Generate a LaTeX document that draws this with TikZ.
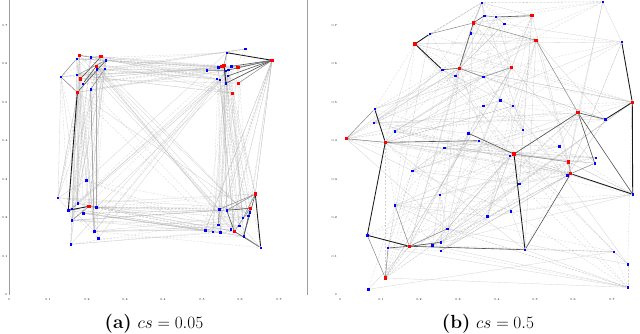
\documentclass[tikz,border=0pt]{standalone}
\usetikzlibrary{backgrounds}
\definecolor{ptblue}{RGB}{0,0,255}
\definecolor{ptred}{RGB}{255,0,0}
\begin{document}
\begin{tikzpicture}[x=1pt,y=-1pt,
  bpt/.style={rectangle,fill=ptblue,inner sep=0pt,minimum size=2.4pt},
  rpt/.style={rectangle,fill=ptred,inner sep=0pt,minimum size=3.1pt},
  g0/.style={draw=black!32,line width=0.3pt,opacity=0.55},
  g1/.style={draw=black!32,line width=0.3pt,opacity=0.55,dash pattern=on 2pt off 1.5pt},
  md/.style={draw=black!48,line width=0.5pt},
  dk/.style={draw=black!68,line width=0.6pt},
  bk/.style={draw=black!90,line width=0.85pt},
  tick/.style={font=\fontsize{3}{3}\selectfont,inner sep=0pt},
  axisline/.style={draw=black!38,line width=1pt},
  capt/.style={font=\fontsize{19}{21}\selectfont,inner sep=0pt}]
\useasboundingbox (0,0) rectangle (640,333);

% ---------------- panel (a) points ----------------
\foreach \n/\col/\x/\y in {
 1/r/79.3/55.3, 2/b/76.7/58.7, 3/b/90.7/57.3, 4/r/101/56.7, 5/b/106/60.3,
 6/r/96.3/66.3, 7/b/96.7/69.3, 8/b/104.7/69, 9/b/61/77, 10/b/77/75,
 11/r/80.3/79, 12/b/82.7/83.7, 13/b/90.7/89.3, 14/r/77.3/92.3,
 15/b/226.7/52.7, 16/b/245.3/49, 17/r/272/60.3, 18/r/224/65.3, 19/b/218.3/67.3,
 20/r/222/66.7, 21/b/231.3/66.3, 22/r/238/67.3, 23/b/228.3/70, 24/b/225.7/70.7,
 25/b/206.7/70.3, 26/b/227.7/76, 27/b/216.7/78.7, 28/b/220/79.7, 29/b/226/83.3,
 30/r/238.3/83.3, 31/r/232.3/93.3,
 32/b/86.3/180.3, 33/b/58/197.7, 34/b/77.7/203.3, 35/b/68.3/210.3, 36/b/72/208.7,
 37/r/89/206.3, 38/b/96.3/207.3, 39/b/83.3/213.3, 40/b/72/220.3, 41/b/94.3/231.3,
 42/b/98.3/238.3, 43/b/70.7/244.3,
 44/r/255.3/194, 45/b/219.3/209.3, 46/b/226.7/210.3, 47/r/250.3/208.3, 48/b/250/212.3,
 49/b/248.3/215.7, 50/b/243/218, 51/b/218.3/225, 52/b/239.3/226, 53/b/230.7/229.3,
 54/r/234.3/231.3, 55/b/205.3/230.3, 56/b/212.7/232, 57/b/220.3/232.3, 58/b/243.7/236.3,
 59/b/260.7/247.7}
 {\node[\col pt] (a\n) at (\x,\y) {};}

% ---------------- panel (b) points ----------------
\foreach \n/\col/\x/\y in {
 1/b/481.7/2.7, 2/b/602.7/1.8, 3/b/484.3/15.7, 4/b/495.7/17, 5/r/532/15.7,
 6/r/473.3/23, 7/b/504.3/24, 8/b/471/33.3, 9/b/429.7/34, 10/r/415/44,
 11/r/536/40.3, 12/b/621.7/42, 13/b/442.3/69.7, 14/r/459.3/68.3, 15/r/511.7/67.3,
 16/b/455.3/76, 17/b/483.3/77, 18/b/500.3/100.3, 19/b/483.3/105.7, 20/b/512.7/106,
 21/r/632.3/102.3, 22/b/374.7/109, 23/r/578/112.7, 24/b/605.3/119.3, 25/b/373.7/122.7,
 26/b/395/131.3, 27/b/522.7/130, 28/r/346.3/138.7, 29/b/468.3/133.3, 30/r/385.3/142.3,
 31/b/478.7/140.7, 32/b/444.3/147.7, 33/b/559.3/146.3, 34/r/514/154, 35/b/510/156,
 36/b/596/157.7, 37/r/568.7/162, 38/b/594.7/163.3, 39/b/567.3/175.3, 40/r/570.7/173.7,
 41/b/412.3/170.7, 42/b/519.3/184, 43/b/632.7/194.3, 44/b/440/194.7, 45/b/395/205.3,
 46/b/510.7/211.3, 47/b/487.3/216.3, 48/b/447.3/228.7, 49/b/367.3/235.3, 50/b/441/242.3,
 51/b/432.3/245.3, 52/r/409.3/246.3, 53/b/388/248, 54/b/441/251, 55/b/525/249.7,
 56/b/614/251.7, 57/b/627.7/264.3, 58/r/385.3/278, 59/b/368.3/289.3, 60/b/627.7/287.3}
 {\node[\col pt] (b\n) at (\x,\y) {};}

\begin{scope}[on background layer]
% axes of panel (a)
\draw[axisline] (9,0) -- (9,295);
\draw[axisline] (307.7,0) -- (307.7,295);

\pgfmathsetseed{12}
% gray edges (a)
\foreach \la/\ha/\lb/\hb/\nn in {1/14/15/31/45, 1/14/32/43/45, 15/31/44/59/45,
  32/43/44/59/45, 1/14/44/59/11, 15/31/32/43/11, 1/14/1/14/8, 15/31/15/31/8,
  32/43/32/43/8, 44/59/44/59/8, 17/17/44/59/8}{
  \foreach \k in {1,...,\nn}{
    \pgfmathtruncatemacro\ii{random(\la,\ha)}
    \pgfmathtruncatemacro\jj{random(\lb,\hb)}
    \pgfmathtruncatemacro\ss{random(0,1)}
    \draw[g\ss] (a\ii) -- (a\jj);
  }
}
% gray edges (b)
\foreach \k in {1,...,160}{
  \pgfmathtruncatemacro\ii{random(1,60)}
  \pgfmathtruncatemacro\jj{max(1,min(60,\ii+random(0,30)-15))}
  \pgfmathtruncatemacro\ss{random(0,1)}
  \draw[g\ss] (b\ii) -- (b\jj);
}
\foreach \k in {1,...,50}{
  \pgfmathtruncatemacro\ii{random(1,60)}
  \pgfmathtruncatemacro\jj{random(1,60)}
  \pgfmathtruncatemacro\ss{random(0,1)}
  \draw[g\ss] (b\ii) -- (b\jj);
}
\foreach \r in {5,6,10,11,14,15,21,23,28,30,34,37,40,52,58}{
  \foreach \k in {1,...,6}{
    \pgfmathtruncatemacro\jj{random(1,60)}
    \pgfmathtruncatemacro\ss{random(0,1)}
    \draw[g\ss] (b\r) -- (b\jj);
  }
}

% dark / black edges (a)
\draw[md] (a1) -- (a2);  \draw[md] (a1) -- (a3); \draw[md] (a3) -- (a4);
\draw[md] (a9) -- (a2);  \draw[md] (a9) -- (a14);
\draw[dk] (a5) -- (a14); \draw[dk] (a4) -- (a11); \draw[dk] (a6) -- (a12);
\draw[md] (a5) -- (a10); \draw[md] (a8) -- (a13);
\draw[bk] (a14) -- (a35); \draw[bk] (a35) -- (a37);
\draw[md] (a13) -- (a41); \draw[md] (a7) -- (a38);
\draw[md] (a36) -- (a34); \draw[md] (a37) -- (a38); \draw[md] (a40) -- (a37);
\draw[bk] (a15) -- (a17); \draw[bk] (a18) -- (a29);
\draw[dk] (a17) -- (a21); \draw[dk] (a17) -- (a23); \draw[dk] (a17) -- (a26);
\draw[dk] (a17) -- (a29); \draw[md] (a17) -- (a30); \draw[md] (a17) -- (a22);
\draw[md] (a15) -- (a18); \draw[md] (a25) -- (a24);
\draw[bk] (a44) -- (a59); \draw[dk] (a59) -- (a54); \draw[dk] (a54) -- (a46);
\draw[dk] (a46) -- (a47); \draw[dk] (a47) -- (a58); \draw[dk] (a44) -- (a58);
\draw[md] (a44) -- (a46); \draw[md] (a44) -- (a45); \draw[md] (a44) -- (a50);
\draw[md] (a58) -- (a59); \draw[md] (a47) -- (a54); \draw[md] (a45) -- (a51);

% dark / black edges (b)
\draw[bk] (b9) -- (b10); \draw[bk] (b10) -- (b13); \draw[dk] (b13) -- (b14);
\draw[dk] (b14) -- (b6); \draw[dk] (b6) -- (b3); \draw[md] (b3) -- (b4);
\draw[dk] (b4) -- (b5); \draw[md] (b9) -- (b6); \draw[md] (b14) -- (b17);
\draw[md] (b17) -- (b15); \draw[md] (b6) -- (b11); \draw[md] (b11) -- (b23);
\draw[dk] (b23) -- (b24); \draw[bk] (b24) -- (b21); \draw[bk] (b12) -- (b21);
\draw[bk] (b21) -- (b43); \draw[bk] (b40) -- (b43); \draw[dk] (b23) -- (b43);
\draw[dk] (b23) -- (b34); \draw[dk] (b34) -- (b29); \draw[dk] (b23) -- (b38);
\draw[bk] (b30) -- (b22); \draw[md] (b28) -- (b22); \draw[md] (b28) -- (b30);
\draw[dk] (b30) -- (b31); \draw[bk] (b30) -- (b49); \draw[bk] (b49) -- (b52);
\draw[dk] (b52) -- (b53); \draw[dk] (b52) -- (b50); \draw[md] (b52) -- (b48);
\draw[dk] (b52) -- (b55); \draw[bk] (b55) -- (b34); \draw[dk] (b55) -- (b40);
\draw[md] (b40) -- (b38); \draw[md] (b58) -- (b49); \draw[md] (b58) -- (b53);
\draw[md] (b45) -- (b52); \draw[md] (b37) -- (b40); \draw[md] (b34) -- (b37);
\end{scope}

% ---------------- tick labels ----------------
\foreach \yy/\lab [count=\c] in {26/0.7,64/0.6,103/0.5,141/0.4,180/0.3,218/0.2,257/0.1,295/0}{
  \node[tick,anchor=east] (ya\c) at (7.5,\yy) {\lab};
  \node[tick,anchor=east] (yb\c) at (337,\yy) {\lab};
}
\foreach \xx/\lab [count=\c] in {9/0,48/0.1,87/0.2,125/0.3,163/0.4,202/0.5,240/0.6,279/0.7}{
  \node[tick] (xa\c) at (\xx,299.5) {\lab};
}
\foreach \xx/\lab [count=\c] in {340/0,381/0.1,419/0.2,458/0.3,497/0.4,535/0.5,573/0.6,612/0.7}{
  \node[tick] (xb\c) at (\xx,299.5) {\lab};
}

% ---------------- captions ----------------
\node[capt,anchor=base] (capa) at (154,328.3) {\textbf{(a)} $cs = 0.05$};
\node[capt,anchor=base] (capb) at (488,328.3) {\textbf{(b)} $cs = 0.5$};
\end{tikzpicture}
\end{document}
